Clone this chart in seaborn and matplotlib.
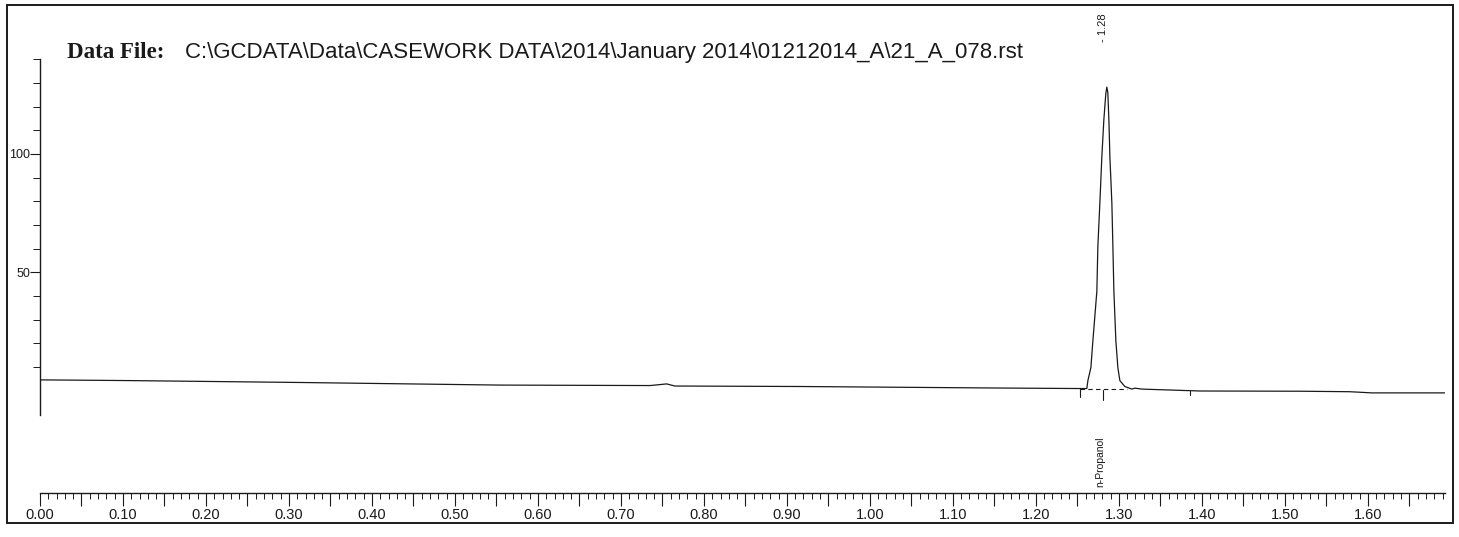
import numpy as np
import pandas as pd
import matplotlib
matplotlib.use("Agg")
import matplotlib.pyplot as plt
import matplotlib.ticker as mticker
from matplotlib.patches import Rectangle
import seaborn as sns

# retention time (min) and detector signal
rt_min = [0.000, 0.108, 0.313, 0.554, 0.735, 0.747, 0.755, 0.765, 0.916, 1.157, 1.253,
          1.2614, 1.2627, 1.2663, 1.2687, 1.2735, 1.2747, 1.2771, 1.2795, 1.2819, 1.2843,
          1.2855, 1.2867, 1.2880, 1.2892, 1.2916, 1.2928, 1.2940, 1.2964, 1.2988, 1.3012,
          1.3072, 1.3157, 1.3193, 1.3277, 1.3976, 1.518, 1.578, 1.605, 1.693]
signal = [4.5, 4.2, 3.4, 2.3, 2.1, 2.5, 2.8, 1.9, 1.7, 1.05, 0.84,
          0.84, 4.2, 9.7, 21.0, 42.0, 60.9, 79.0, 98.7, 114.3, 125.5,
          128.2, 126.0, 114.3, 98.7, 79.0, 60.9, 42.0, 21.0, 9.7, 4.2,
          1.7, 0.6, 1.0, 0.6, -0.2, -0.3, -0.5, -1.0, -1.0]

# integration events
peak_rt = 1.28
peak_name = "n-Propanol"
peak_start, peak_apex, peak_end = 1.253, 1.281, 1.386
data_file = "C:\\GCDATA\\Data\\CASEWORK DATA\\2014\\January 2014\\01212014_A\\21_A_078.rst"

df = pd.DataFrame({"time": rt_min, "signal": signal})

sns.set_theme(style="white")
narrow = ["Liberation Sans Narrow", "Liberation Sans", "DejaVu Sans"]
plt.rcParams["font.family"] = narrow

W, H = 1459, 537
fig = plt.figure(figsize=(W / 100, H / 100), dpi=100)
ax = fig.add_axes([40 / W, (H - 493) / H, 1405 / W, 435 / H])

sns.lineplot(data=df, x="time", y="signal", ax=ax, color="#1a1a1a", lw=0.9,
             estimator=None, sort=False)

# baseline + event marks under the peak
ax.plot([peak_start, 1.31], [0.8, 0.8], color="#1a1a1a", lw=0.8, ls=(0, (4, 3)))
ax.plot([peak_start, peak_start], [0.8, -2.9], color="#1a1a1a", lw=0.8)
ax.plot([peak_apex, peak_apex], [0.4, -4.2], color="#1a1a1a", lw=0.8)
ax.plot([peak_end, peak_end], [0.0, -2.0], color="#1a1a1a", lw=0.8)

ax.set_xlim(0, 1.693)
ax.set_ylim(-43.3, 140.5)
ax.set_xlabel("")
ax.set_ylabel("")

for s in ["top", "right"]:
    ax.spines[s].set_visible(False)
ax.spines["left"].set_bounds(-10.5, 140)
ax.spines["left"].set_color("#1a1a1a")
ax.spines["bottom"].set_color("#1a1a1a")
ax.spines["left"].set_linewidth(1.0)
ax.spines["bottom"].set_linewidth(1.0)

ax.xaxis.set_major_locator(mticker.MultipleLocator(0.05))
ax.xaxis.set_minor_locator(mticker.MultipleLocator(0.01))
ax.xaxis.set_major_formatter(mticker.FuncFormatter(
    lambda v, p: f"{v:.2f}" if abs(round(v * 10) - v * 10) < 1e-6 else ""))
ax.set_yticks([50, 100])
ax.yaxis.set_minor_locator(mticker.FixedLocator(np.arange(10, 141, 10)))

ax.tick_params(axis="x", which="major", direction="out", length=9.5, width=0.8,
               pad=1, labelsize=10.5, colors="#1a1a1a", bottom=True)
ax.tick_params(axis="x", which="minor", direction="out", length=4.5, width=0.7,
               bottom=True, colors="#1a1a1a")
ax.tick_params(axis="y", which="major", direction="out", length=7, width=0.8,
               pad=0, labelsize=9, colors="#1a1a1a", left=True)
ax.tick_params(axis="y", which="minor", direction="out", length=5, width=0.7,
               left=True, colors="#1a1a1a")

# header
fig.text(67 / W, 1 - 58 / H, "Data File:", family=["Liberation Serif", "DejaVu Serif"],
         fontweight="bold", fontsize=16.5, color="#1a1a1a", va="baseline")
fig.text(185 / W, 1 - 58 / H, data_file, family=["Liberation Sans", "DejaVu Sans"],
         fontsize=16, color="#1a1a1a", va="baseline")

# peak labels
apex_x = ax.transData.transform((peak_apex, 0))[0] / W
fig.text(apex_x, 1 - 42 / H, f"- {peak_rt:.2f}", rotation=90, fontsize=8,
         ha="center", va="bottom", color="#1a1a1a",
         family=["Liberation Sans", "DejaVu Sans"])
fig.text(apex_x - 3 / W, 1 - 487 / H, peak_name,
         rotation=90, fontsize=7.5, ha="center", va="bottom", color="#1a1a1a",
         family=["Liberation Sans", "DejaVu Sans"])

# outer frame of the printout
fig.add_artist(Rectangle((7 / W, (H - 523) / H), 1446 / W, 518 / H,
                         transform=fig.transFigure, fill=False, lw=1.4,
                         edgecolor="#1a1a1a"))

fig.savefig("out.png", dpi=100)
